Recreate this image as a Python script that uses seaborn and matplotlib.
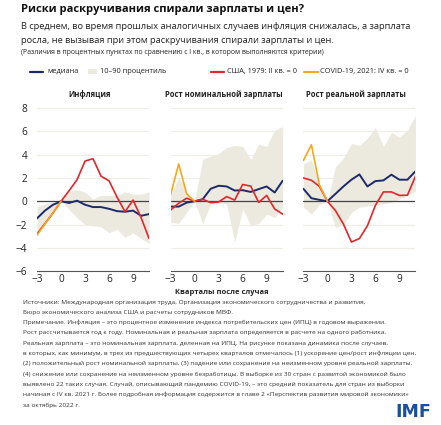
import numpy as np
import pandas as pd
import matplotlib
matplotlib.use('Agg')
import matplotlib.pyplot as plt
import seaborn as sns

# ── Data ──────────────────────────────────────────────────────────────
quarters = list(range(-3, 12))
covid_quarters = [-3, -2, -1, 0]

panel_titles = ['Инфляция', 'Рост номинальной зарплаты', 'Рост реальной зарплаты']

infl_median = [-1.47, -0.8, -0.3, 0.0, -0.15, 0.05, -0.3, -0.5, -0.5, -0.65, -0.85, -0.9, -0.8, -1.25, -1.1]
infl_us = [-2.8, -1.9, -1.0, 0.0, 0.9, 1.85, 3.45, 3.65, 2.15, 1.75, 0.35, -0.9, 0.1, -1.4, -3.2]
infl_covid = [-2.9, -1.95, -1.0, 0.0]
infl_p90 = [-0.45, -0.2, -0.1, 0.0, 0.87, 1.0, 0.78, 0.2, 0.5, 0.5, 0.5, 0.8, 0.6, 0.6, 0.8]
infl_p10 = [-2.9, -2.0, -1.05, 0.0, -0.7, -1.4, -2.0, -2.1, -2.2, -2.7, -2.4, -3.1, -2.7, -3.2, -3.6]

nom_median = [-0.46, -0.46, -0.12, 0.0, 0.17, 1.07, 1.33, 1.27, 0.92, 0.95, 0.8, 1.04, 1.27, 0.75, 1.76]
nom_us = [-0.75, -0.17, 0.26, 0.0, 0.17, -0.12, -0.06, 0.4, 0.1, 1.44, 1.3, -0.1, 0.5, -0.67, -1.1]
nom_covid = [0.58, 3.2, 0.63, 0.0]
nom_p90 = [0.5, 2.1, 0.8, 0.0, 3.6, 3.87, 4.1, 4.6, 4.8, 4.7, 3.6, 4.9, 4.7, 6.1, 6.4]
nom_p10 = [-1.8, -1.9, -0.95, 0.0, -1.95, -0.23, -0.14, -0.23, -3.5, -0.67, -2.05, -1.9, -1.1, -1.4, -0.5]

real_median = [1.07, 0.26, 0.12, 0.0, 0.63, 1.27, 1.85, 2.3, 1.27, 1.73, 1.79, 2.28, 1.85, 1.85, 2.57]
real_us = [2.0, 1.8, 1.27, 0.0, -0.8, -1.96, -3.5, -3.2, -2.1, -0.35, 0.8, 0.8, 0.5, 0.52, 2.13]
real_covid = [3.5, 4.85, 1.4, 0.0]
real_p90 = [3.2, 3.55, 1.35, 0.0, 2.95, 3.7, 4.95, 4.8, 5.4, 6.3, 4.7, 5.9, 5.5, 6.1, 7.35]
real_p10 = [-0.5, -1.1, -0.3, 0.0, -2.25, -2.05, -0.95, -0.5, -0.4, -0.3, -0.23, -0.1, 0.2, 0.5, 0.9]

y_ticks = [-6, -4, -2, 0, 2, 4, 6, 8]
x_ticks = [-3, 0, 3, 6, 9]

legend_labels = ['медиана', '10–90 процентиль', 'США, 1979: II кв. = 0', 'COVID-19, 2021: IV кв. = 0']

title = 'Риски раскручивания спирали зарплаты и цен?'
subtitle = ('В среднем, во время прошлых аналогичных случаев инфляция снижалась, а зарплата\n'
            'росла, не вызывая при этом раскручивания спирали зарплаты и цен.')
note_top = '(Различия в процентных пунктах по сравнению с I кв., в котором выполняются критерии)'
x_label = 'Кварталы после случая'
source_lines = [
    'Источники: Международная организация труда, Организация экономического сотрудничества и развития,',
    'Бюро экономического анализа США и расчеты сотрудников МВФ.',
    'Примечание. Инфляция – это процентное изменение индекса потребительских цен (ИПЦ) в годовом выражении.',
    'Рост рассчитывается год к году. Номинальная и реальная зарплата определяется в расчете на одного работника.',
    'Реальная зарплата – это номинальная зарплата, деленная на ИПЦ. На рисунке показана динамика после случаев,',
    'в которых, как минимум, в трех из предшествующих четырех кварталов отмечалось (1) ускорение цен/рост инфляции цен,',
    '(2) положительный рост номинальной зарплаты, (3) падение или сохранение на неизменном уровне реальной зарплаты,',
    '(4) снижение или сохранение на неизменном уровне безработицы. В выборке из 30 стран с развитой экономикой было',
    'выявлено 22 таких случая. Случай, описывающий пандемию COVID-19, – это средний показатель для стран из выборки',
    'начиная с IV кв. 2021 г. Более подробная информация содержится в главе 2 «Перспектив развития мировой экономики»',
    'за октябрь 2022 г.',
]

panels = [
    (infl_median, infl_us, infl_covid, infl_p10, infl_p90),
    (nom_median, nom_us, nom_covid, nom_p10, nom_p90),
    (real_median, real_us, real_covid, real_p10, real_p90),
]

# ── Style ─────────────────────────────────────────────────────────────
sns.set_theme(style='white')
plt.rcParams['font.family'] = ['Open Sans', 'DejaVu Sans']

NAVY = '#1d2a6b'
RED = '#e3262b'
ORANGE = '#f6a81c'
BAND = '#ecE9de'
GRID = '#efece3'
TXT = '#222222'

fig = plt.figure(figsize=(4.41, 4.25), dpi=100)

ax_left = [0.084, 0.387, 0.688]
ax_w = 0.254
ax_bottom = 0.362
ax_h = 0.392

for i, (med, us, cov, p10, p90) in enumerate(panels):
    ax = fig.add_axes([ax_left[i], ax_bottom, ax_w, ax_h])
    for yv in y_ticks:
        if yv not in (0, -6):
            ax.axhline(yv, color=GRID, lw=0.8, zorder=0)
    ax.fill_between(quarters, p10, p90, color=BAND, lw=0, zorder=1)
    ax.axhline(0, color='#444444', lw=0.9, zorder=2)

    df = pd.DataFrame({'q': quarters, 'median': med, 'us': us})
    sns.lineplot(data=df, x='q', y='median', ax=ax, color=NAVY, lw=1.4, zorder=3)
    sns.lineplot(data=df, x='q', y='us', ax=ax, color=RED, lw=1.2, zorder=4)
    dfc = pd.DataFrame({'q': covid_quarters, 'covid': cov})
    sns.lineplot(data=dfc, x='q', y='covid', ax=ax, color=ORANGE, lw=1.2, zorder=5)

    ax.set_xlim(-3, 11)
    ax.set_ylim(-6, 8.3)
    ax.set_xticks(x_ticks)
    ax.set_xticklabels([str(t).replace('-', '\u2212') for t in x_ticks], fontsize=7.2, color=TXT)
    ax.set_xlabel('')
    ax.set_ylabel('')
    if i == 0:
        ax.set_yticks(y_ticks)
        ax.set_yticklabels([str(t).replace('-', '\u2212') for t in y_ticks], fontsize=7.2, color=TXT)
        ax.tick_params(axis='y', length=0, pad=7)
    else:
        ax.set_yticks([])
    ax.tick_params(axis='x', direction='in', length=3, width=0.7, color='#555555', pad=2)
    for s in ['top', 'right', 'left']:
        ax.spines[s].set_visible(False)
    ax.spines['bottom'].set_color('#555555')
    ax.spines['bottom'].set_linewidth(0.8)
    ax.set_facecolor('none')
    ax.text(0.47, 1.035, panel_titles[i], transform=ax.transAxes, ha='center', va='bottom',
            fontsize=5.5, fontweight='bold', color=TXT)

# ── Texts ─────────────────────────────────────────────────────────────
fig.text(0.048, 0.977, title, fontsize=8.0, fontweight='bold', color='#111111', va='center')
fig.text(0.048, 0.922, subtitle, fontsize=6.7, color=TXT, va='center', linespacing=1.7)
fig.text(0.048, 0.876, note_top, fontsize=4.95, color=TXT, va='center')

# legend row
ly = 1 - 71.5 / 425
fig.add_artist(plt.Line2D([30 / 441, 43 / 441], [ly, ly], color=NAVY, lw=1.6))
fig.text(47 / 441, ly, legend_labels[0], fontsize=5.3, color=TXT, va='center')
fig.add_artist(plt.Rectangle((88 / 441, ly - 0.006), 9 / 441, 0.012, color=BAND, lw=0))
fig.text(100 / 441, ly, legend_labels[1], fontsize=5.3, color=TXT, va='center')
fig.add_artist(plt.Line2D([211 / 441, 224 / 441], [ly, ly], color=RED, lw=1.6))
fig.text(227 / 441, ly, legend_labels[2], fontsize=5.3, color=TXT, va='center')
fig.add_artist(plt.Line2D([304 / 441, 318 / 441], [ly, ly], color=ORANGE, lw=1.6))
fig.text(320 / 441, ly, legend_labels[3], fontsize=5.3, color=TXT, va='center')

fig.text(222 / 441, 1 - 293 / 425, x_label, fontsize=5.4, fontweight='bold', color=TXT,
         ha='center', va='center')

for k, line in enumerate(source_lines):
    fig.text(23 / 441, 1 - (302 + k * 10.3) / 425, line, fontsize=4.67, color='#333333', va='center')

fig.text(413 / 441, 1 - 412 / 425, 'IMF', fontsize=12.5, fontweight='bold', color='#1a4e9e',
         ha='center', va='center', family=['DejaVu Sans'])

fig.savefig('out.png', dpi=100)
